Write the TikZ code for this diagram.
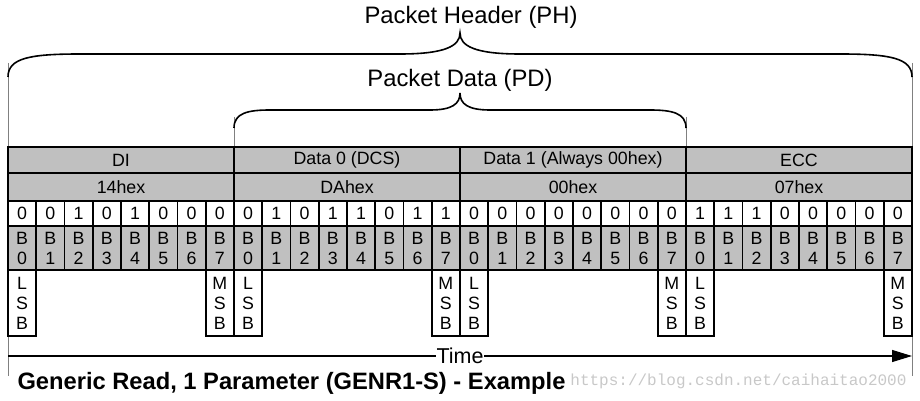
\documentclass[tikz,border=0pt]{standalone}
\usepackage{fontspec}
\setmainfont{Liberation Sans}
\newfontfamily\urlfont{Liberation Mono}
\usetikzlibrary{arrows.meta}
\definecolor{cellgray}{RGB}{192,192,192}
\definecolor{tickgray}{RGB}{128,128,128}
\definecolor{markgray}{RGB}{200,200,200}

\begin{document}
\begin{tikzpicture}[x=1pt,y=-1pt,
    every node/.style={font=\fontsize{17.8}{20}\selectfont},
    field/.style={draw,line width=1.8pt,fill=cellgray,inner sep=0pt,minimum width=226pt,minimum height=#1},
    bitcell/.style={draw,line width=1.8pt,fill=white,inner sep=0pt,minimum width=28.25pt,minimum height=25pt},
    idxcell/.style={draw,line width=1.8pt,fill=cellgray,inner sep=0pt,minimum width=28.25pt,minimum height=44pt,align=center},
    sigcell/.style={draw,line width=1.8pt,fill=white,inner sep=0pt,minimum width=28.25pt,minimum height=66pt,align=center},
    bracket/.style={line width=1.6pt},
    sideline/.style={draw=tickgray,line width=1pt},
    heading/.style={font=\fontsize{23.8}{26}\selectfont}]
  \useasboundingbox (0,0) rectangle (920,401);
  % side marks
  \draw[sideline] (8,63) -- (8,376);
  \draw[sideline] (912,63) -- (912,376);
  \draw[sideline] (234,117) -- (234,147);
  \draw[sideline] (686,117) -- (686,147);
  % brackets
  \node[heading] (ph) at (471,17) {Packet Header (PH)};
  \draw[bracket] (8,77) .. controls (8,58) and (30,54) .. (80,54) -- (400,54)
    .. controls (445,54) and (460,46) .. (460,33) .. controls (460,46) and (475,54) .. (520,54)
    -- (840,54) .. controls (890,54) and (912,58) .. (912,77);
  \node[heading] (pd) at (460,80) {Packet Data (PD)};
  \draw[bracket] (234,128) .. controls (234,113) and (248,110) .. (270,110) -- (430,110)
    .. controls (452,110) and (460,104) .. (460,93) .. controls (460,104) and (468,110) .. (490,110)
    -- (650,110) .. controls (672,110) and (686,113) .. (686,128);
  % byte fields
  \foreach \name/\hex [count=\k from 0] in {DI/14hex,Data 0 (DCS)/DAhex,Data 1 (Always 00hex)/00hex,ECC/07hex}{
    \pgfmathsetmacro\fx{121+226*\k}
    \node[field=26pt] (fld\k) at (\fx,160) {\name};
    \node[field=28pt] (hex\k) at (\fx,187) {\hex};
  }
  % bits
  \foreach \v [count=\i from 0] in {0,0,1,0,1,0,0,0, 0,1,0,1,1,0,1,1, 0,0,0,0,0,0,0,0, 1,1,1,0,0,0,0,0}{
    \pgfmathsetmacro\bx{8+28.25*(\i+0.5)}
    \pgfmathtruncatemacro\b{mod(\i,8)}
    \node[bitcell] (val\i) at (\bx,213.5) {\v};
    \node[idxcell] (idx\i) at (\bx,248) {B\\\b};
  }
  \foreach \i/\s in {0/L,7/M,8/L,15/M,16/L,23/M,24/L,31/M}{
    \pgfmathsetmacro\bx{8+28.25*(\i+0.5)}
    \node[sigcell] (sig\i) at (\bx,303) {\s\\S\\B};
  }
  % time axis
  \coordinate (tstart) at (8,356);
  \coordinate (tend) at (912,356);
  \draw[line width=1.2pt,-{Triangle[length=20pt,width=12pt]}] (tstart) -- node[fill=white,inner sep=1pt,font=\fontsize{21.5}{22}\selectfont] (time) {Time} (tend);
  \node[anchor=west,font=\fontsize{23.7}{26}\selectfont\bfseries] (title) at (14,383) {Generic Read, 1 Parameter (GENR1-S) - Example};
  \node[anchor=east,text=markgray,font=\urlfont\fontsize{16}{18}\selectfont] (url) at (910,381) {https://blog.csdn.net/caihaitao2000};
\end{tikzpicture}
\end{document}
